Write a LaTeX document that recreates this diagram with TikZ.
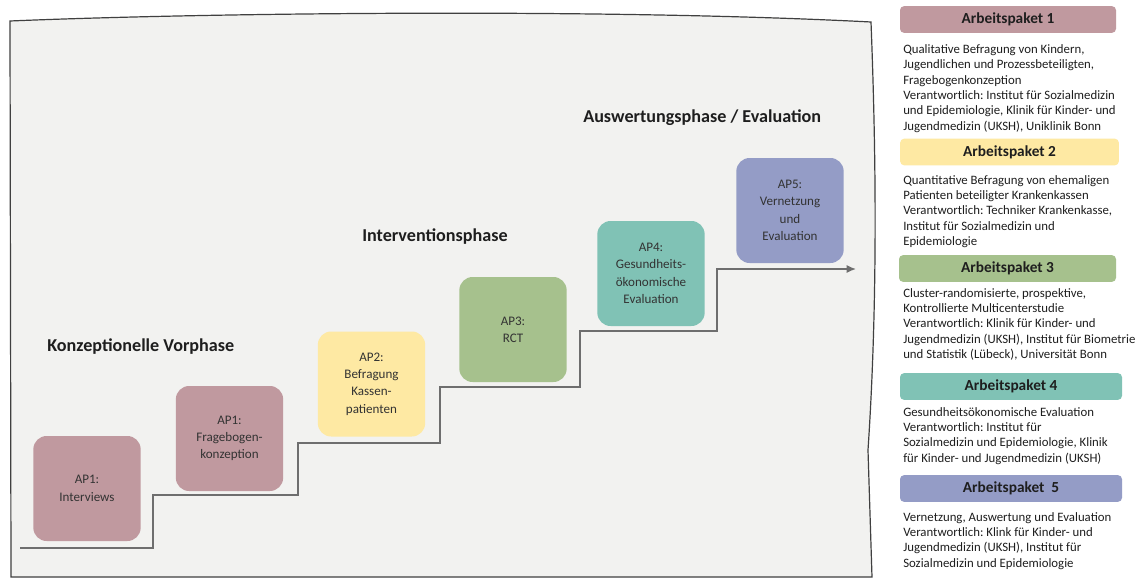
\documentclass[tikz,border=0pt]{standalone}
\usepackage{fontspec}
\setmainfont{Carlito}
\usetikzlibrary{arrows.meta}
\frenchspacing
\definecolor{panelbg}{HTML}{F2F2F0}
\definecolor{panelln}{HTML}{404040}
\definecolor{stairln}{HTML}{6E6E6E}
\definecolor{cmauve}{HTML}{C0999F}
\definecolor{cyellow}{HTML}{FEE9A3}
\definecolor{cgreen}{HTML}{A6C18D}
\definecolor{cteal}{HTML}{80C2B5}
\definecolor{cblue}{HTML}{949CC6}
\definecolor{boxtext}{HTML}{333333}
\definecolor{maintext}{HTML}{1E1E1E}
\begin{document}
\frenchspacing
\begin{tikzpicture}[x=0.75pt,y=-0.75pt,
  apbox/.style={rounded corners=10pt, minimum width=80.5pt, minimum height=78.75pt,
    inner sep=0pt, align=center, text=boxtext, font=\fontsize{9.8}{13}\selectfont},
  hdr/.style={rounded corners=3pt, minimum height=20pt, inner sep=0pt,
    text=maintext, font=\fontsize{11.5}{13}\selectfont\bfseries},
  desc/.style={anchor=north west, inner sep=0pt, align=left, text=maintext,
    font=\fontsize{9.6}{11.5}\selectfont},
  phase/.style={inner sep=0pt, text=maintext, font=\fontsize{13.6}{15}\selectfont\bfseries},
  stair/.style={draw=stairln, line width=1.1pt},
]
\useasboundingbox (0,0) rectangle (1140,578);
\fill[white] (0,0) rectangle (1140,578);
% panel
\draw[draw=panelln, line width=0.9pt, fill=panelbg]
  (10,21) .. controls (200,13) and (600,8) .. (871,22)
  .. controls (876,150) and (878,300) .. (868,450) -- (872,577) -- (11,577) -- cycle;
% staircase line
\coordinate (s0) at (20,548);
\coordinate (s1) at (153,548);
\coordinate (s2) at (153,495);
\coordinate (s3) at (298,495);
\coordinate (s4) at (298,443);
\coordinate (s5) at (440,443);
\coordinate (s6) at (440,387);
\coordinate (s7) at (580,387);
\coordinate (s8) at (580,331);
\coordinate (s9) at (717,331);
\coordinate (s10) at (717,269);
\coordinate (s11) at (856,269);
\draw[stair, -{Latex[length=7pt,width=6pt]}] (s0) -- (s1) -- (s2) -- (s3) -- (s4) -- (s5) -- (s6) -- (s7) -- (s8) -- (s9) -- (s10) -- (s11);
% boxes
\node[apbox, fill=cmauve] (ap1i) at (87,488.5) {AP1:\\Interviews};
\node[apbox, fill=cmauve] (ap1f) at (229.5,438.5) {AP1:\\Fragebogen-\\konzeption};
\node[apbox, fill=cyellow] (ap2) at (371.5,384) {AP2:\\Befragung\\Kassen-\\patienten};
\node[apbox, fill=cgreen] (ap3) at (513,329.5) {AP3:\\RCT};
\node[apbox, fill=cteal] (ap4) at (651,273.5) {AP4:\\Gesundheits-\\ökonomische\\Evaluation};
\node[apbox, fill=cblue] (ap5) at (790,210.5) {AP5:\\Vernetzung\\und\\Evaluation};
% phase labels
\node[phase, anchor=west] (ph1) at (47,347) {Konzeptionelle Vorphase};
\node[phase, anchor=west] (ph2) at (362,237) {Interventionsphase};
\node[phase, anchor=west] (ph3) at (583,118) {Auswertungsphase / Evaluation};
% sidebar
\node[hdr, fill=cmauve, minimum width=162pt] (h1) at (1008,19.5) {Arbeitspaket 1};
\node[desc] (d1) at (903,44.5) {Qualitative Befragung von Kindern,\\Jugendlichen und Prozessbeteiligten,\\Fragebogenkonzeption\\Verantwortlich: Institut für Sozialmedizin\\und Epidemiologie, Klinik für Kinder- und\\Jugendmedizin (UKSH), Uniklinik Bonn};
\node[hdr, fill=cyellow, minimum width=164pt] (h2) at (1009.5,152) {Arbeitspaket 2};
\node[desc] (d2) at (903,175) {Quantitative Befragung von ehemaligen\\Patienten beteiligter Krankenkassen\\Verantwortlich: Techniker Krankenkasse,\\Institut für Sozialmedizin und\\Epidemiologie};
\node[hdr, fill=cgreen, minimum width=162.75pt] (h3) at (1007.5,268.5) {Arbeitspaket 3};
\node[desc] (d3) at (903,288) {Cluster-randomisierte, prospektive,\\Kontrollierte Multicenterstudie\\Verantwortlich: Klinik für Kinder- und\\Jugendmedizin (UKSH), Institut für Biometrie\\und Statistik (Lübeck), Universität Bonn};
\node[hdr, fill=cteal, minimum width=166.5pt] (h4) at (1011,386.5) {Arbeitspaket 4};
\node[desc] (d4) at (903,407) {Gesundheitsökonomische Evaluation\\Verantwortlich: Institut für\\Sozialmedizin und Epidemiologie, Klinik\\für Kinder- und Jugendmedizin (UKSH)};
\node[hdr, fill=cblue, minimum width=166.5pt] (h5) at (1011,488.5) {Arbeitspaket\ \ 5};
\node[desc] (d5) at (903,512) {Vernetzung, Auswertung und Evaluation\\Verantwortlich: Klink für Kinder- und\\Jugendmedizin (UKSH), Institut für\\Sozialmedizin und Epidemiologie};
\end{tikzpicture}
\end{document}
